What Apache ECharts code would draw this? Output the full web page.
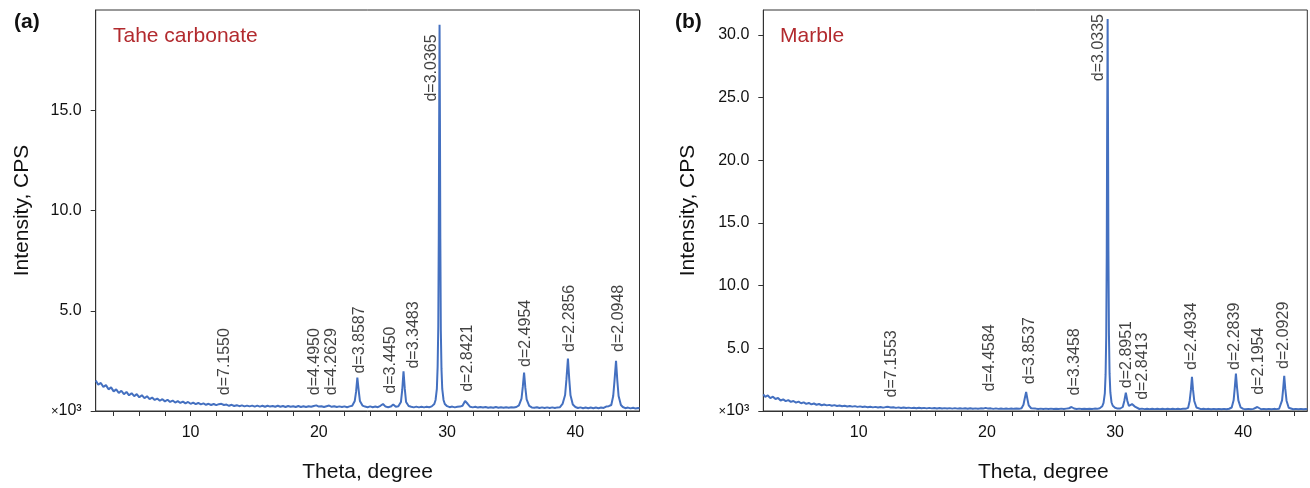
<!DOCTYPE html>
<html>
<head>
<meta charset="utf-8">
<title>XRD patterns</title>
<script src="https://cdn.jsdelivr.net/npm/echarts@6/dist/echarts.min.js"></script>
<style>
  html, body { margin: 0; padding: 0; background: #fff; }
  #chart { width: 1310px; height: 488px; }
</style>
</head>
<body>
<div id="chart"></div>
<script>
// [2theta, intensity (x10^3 CPS)]
const tahePattern = [
  [2.6, 1.52], [2.8, 1.31], [3.0, 1.40], [3.2, 1.20], [3.4, 1.29], [3.6, 1.08], [3.8, 1.18], [4.0, 0.98],
  [4.2, 1.08], [4.4, 0.90], [4.6, 1.01], [4.8, 0.84], [5.0, 0.95], [5.2, 0.78], [5.4, 0.89], [5.6, 0.74],
  [5.8, 0.84], [6.0, 0.68], [6.2, 0.79], [6.4, 0.64], [6.6, 0.74], [6.8, 0.59], [7.0, 0.67], [7.2, 0.55],
  [7.4, 0.62], [7.6, 0.51], [7.8, 0.59], [8.0, 0.48], [8.2, 0.56], [8.4, 0.45], [8.6, 0.52], [8.8, 0.42],
  [9.0, 0.49], [9.2, 0.40], [9.4, 0.47], [9.6, 0.38], [9.8, 0.45], [10.0, 0.36], [10.2, 0.42], [10.4, 0.34],
  [10.6, 0.40], [10.8, 0.33], [11.0, 0.38], [11.2, 0.31], [11.4, 0.36], [11.6, 0.30], [11.8, 0.35], [12.0, 0.29],
  [12.2, 0.34], [12.4, 0.36], [12.6, 0.30], [12.8, 0.32], [13.0, 0.26], [13.2, 0.31], [13.4, 0.25], [13.6, 0.29],
  [13.8, 0.24], [14.0, 0.28], [14.2, 0.23], [14.4, 0.27], [14.6, 0.23], [14.8, 0.27], [15.0, 0.22], [15.2, 0.27],
  [15.4, 0.22], [15.6, 0.26], [15.8, 0.21], [16.0, 0.26], [16.2, 0.22], [16.4, 0.25], [16.6, 0.21], [16.8, 0.26],
  [17.0, 0.21], [17.2, 0.25], [17.4, 0.20], [17.6, 0.25], [17.8, 0.21], [18.0, 0.24], [18.2, 0.20], [18.4, 0.25],
  [18.6, 0.20], [18.8, 0.24], [19.0, 0.20], [19.2, 0.24], [19.4, 0.21], [19.6, 0.25], [19.8, 0.28], [20.0, 0.22],
  [20.2, 0.24], [20.4, 0.20], [20.6, 0.24], [20.8, 0.27], [21.0, 0.21], [21.2, 0.24], [21.4, 0.20], [21.6, 0.23],
  [21.8, 0.20], [22.0, 0.23], [22.2, 0.19], [22.4, 0.23], [22.6, 0.26], [22.8, 0.50], [22.9, 0.95], [23.0, 1.67],
  [23.1, 1.05], [23.2, 0.50], [23.4, 0.27], [23.6, 0.22], [23.8, 0.19], [24.0, 0.23], [24.2, 0.19], [24.4, 0.22],
  [24.6, 0.19], [24.8, 0.26], [25.0, 0.35], [25.2, 0.22], [25.4, 0.19], [25.6, 0.22], [25.8, 0.32], [26.0, 0.21],
  [26.2, 0.24], [26.4, 0.45], [26.5, 1.05], [26.6, 1.98], [26.7, 1.10], [26.8, 0.45], [27.0, 0.25], [27.2, 0.21],
  [27.4, 0.18], [27.6, 0.22], [27.8, 0.18], [28.0, 0.21], [28.2, 0.18], [28.4, 0.21], [28.6, 0.19], [28.8, 0.23],
  [29.0, 0.35], [29.1, 0.55], [29.2, 1.1], [29.26, 2.2], [29.31, 4.2], [29.35, 8.8], [29.38, 14.5], [29.41, 19.27],
  [29.44, 14.5], [29.47, 8.6], [29.51, 4.0], [29.56, 2.1], [29.62, 1.1], [29.72, 0.55], [29.82, 0.35], [30.0, 0.24],
  [30.2, 0.19], [30.4, 0.22], [30.6, 0.18], [30.8, 0.21], [31.0, 0.22], [31.2, 0.26], [31.4, 0.50], [31.5, 0.58],
  [31.6, 0.36], [31.8, 0.21], [32.0, 0.18], [32.2, 0.21], [32.4, 0.17], [32.6, 0.20], [32.8, 0.17], [33.0, 0.20],
  [33.2, 0.16], [33.4, 0.19], [33.6, 0.16], [33.8, 0.20], [34.0, 0.16], [34.2, 0.19], [34.4, 0.16], [34.6, 0.19],
  [34.8, 0.16], [35.0, 0.19], [35.2, 0.17], [35.4, 0.20], [35.6, 0.28], [35.8, 0.62], [35.9, 1.20], [36.0, 1.92],
  [36.1, 1.15], [36.2, 0.58], [36.4, 0.26], [36.6, 0.18], [36.8, 0.16], [37.0, 0.19], [37.2, 0.15], [37.4, 0.18],
  [37.6, 0.15], [37.8, 0.18], [38.0, 0.15], [38.2, 0.18], [38.4, 0.15], [38.6, 0.18], [38.8, 0.19], [39.0, 0.35],
  [39.2, 0.80], [39.3, 1.55], [39.42, 2.62], [39.52, 1.60], [39.62, 0.78], [39.8, 0.32], [40.0, 0.20], [40.2, 0.15],
  [40.4, 0.18], [40.6, 0.14], [40.8, 0.17], [41.0, 0.14], [41.2, 0.17], [41.4, 0.14], [41.6, 0.17], [41.8, 0.14],
  [42.0, 0.17], [42.2, 0.15], [42.4, 0.22], [42.6, 0.24], [42.8, 0.30], [42.95, 0.75], [43.05, 1.50], [43.17, 2.50],
  [43.27, 1.52], [43.37, 0.75], [43.55, 0.30], [43.7, 0.20], [43.9, 0.14], [44.1, 0.17], [44.3, 0.13], [44.5, 0.16],
  [44.7, 0.12], [44.9, 0.15], [45.0, 0.13]
];

// [2theta, intensity (x10^3 CPS)]
const marblePattern = [
  [2.55, 1.32], [2.7, 1.13], [2.9, 1.24], [3.1, 1.03], [3.3, 1.14], [3.5, 0.96], [3.7, 1.04], [3.9, 0.84],
  [4.1, 0.93], [4.3, 0.79], [4.5, 0.87], [4.7, 0.73], [4.9, 0.80], [5.1, 0.67], [5.3, 0.75], [5.5, 0.62],
  [5.7, 0.69], [5.9, 0.57], [6.1, 0.64], [6.3, 0.53], [6.5, 0.60], [6.7, 0.50], [6.9, 0.56], [7.1, 0.46],
  [7.3, 0.52], [7.5, 0.45], [7.7, 0.49], [7.9, 0.42], [8.1, 0.47], [8.3, 0.40], [8.5, 0.44], [8.7, 0.38],
  [8.9, 0.42], [9.1, 0.36], [9.3, 0.40], [9.5, 0.35], [9.7, 0.39], [9.9, 0.33], [10.1, 0.37], [10.3, 0.32],
  [10.5, 0.35], [10.7, 0.30], [10.9, 0.34], [11.1, 0.29], [11.3, 0.33], [11.5, 0.28], [11.7, 0.32], [11.9, 0.27],
  [12.1, 0.31], [12.3, 0.33], [12.5, 0.28], [12.7, 0.30], [12.9, 0.25], [13.1, 0.29], [13.3, 0.24], [13.5, 0.28],
  [13.7, 0.24], [13.9, 0.27], [14.1, 0.23], [14.3, 0.26], [14.5, 0.22], [14.7, 0.26], [14.9, 0.22], [15.1, 0.25],
  [15.3, 0.21], [15.5, 0.25], [15.7, 0.21], [15.9, 0.24], [16.1, 0.20], [16.3, 0.24], [16.5, 0.20], [16.7, 0.23],
  [16.9, 0.20], [17.1, 0.23], [17.3, 0.19], [17.5, 0.23], [17.7, 0.19], [17.9, 0.22], [18.1, 0.19], [18.3, 0.22],
  [18.5, 0.18], [18.7, 0.22], [18.9, 0.18], [19.1, 0.21], [19.3, 0.18], [19.5, 0.21], [19.7, 0.19], [19.9, 0.25],
  [20.1, 0.19], [20.3, 0.21], [20.5, 0.17], [20.7, 0.21], [20.9, 0.17], [21.1, 0.20], [21.3, 0.17], [21.5, 0.20],
  [21.7, 0.17], [21.9, 0.20], [22.1, 0.17], [22.3, 0.19], [22.5, 0.17], [22.7, 0.22], [22.85, 0.50], [22.95, 1.00],
  [23.06, 1.52], [23.16, 0.95], [23.26, 0.45], [23.45, 0.22], [23.6, 0.17], [23.8, 0.19], [24.0, 0.16], [24.2, 0.19],
  [24.4, 0.16], [24.6, 0.19], [24.8, 0.16], [25.0, 0.19], [25.2, 0.16], [25.4, 0.18], [25.6, 0.16], [25.8, 0.19],
  [26.0, 0.16], [26.2, 0.19], [26.4, 0.22], [26.6, 0.32], [26.8, 0.20], [27.0, 0.16], [27.2, 0.19], [27.4, 0.16],
  [27.6, 0.18], [27.8, 0.16], [28.0, 0.18], [28.2, 0.16], [28.4, 0.19], [28.6, 0.17], [28.8, 0.22], [29.0, 0.38],
  [29.1, 0.65], [29.2, 1.4], [29.26, 2.9], [29.31, 6.0], [29.35, 12.5], [29.38, 22.0], [29.42, 31.28], [29.45, 22.5],
  [29.48, 12.8], [29.52, 6.2], [29.57, 3.0], [29.63, 1.5], [29.72, 0.7], [29.82, 0.42], [30.0, 0.26], [30.2, 0.19],
  [30.4, 0.20], [30.6, 0.32], [30.72, 0.80], [30.84, 1.47], [30.96, 0.80], [31.08, 0.40], [31.2, 0.38], [31.32, 0.55],
  [31.42, 0.62], [31.55, 0.35], [31.7, 0.20], [31.9, 0.16], [32.1, 0.19], [32.3, 0.15], [32.5, 0.18], [32.7, 0.15],
  [32.9, 0.18], [33.1, 0.15], [33.3, 0.18], [33.5, 0.15], [33.7, 0.18], [33.9, 0.15], [34.1, 0.18], [34.3, 0.15],
  [34.5, 0.18], [34.7, 0.15], [34.9, 0.18], [35.1, 0.15], [35.3, 0.18], [35.5, 0.17], [35.7, 0.25], [35.82, 0.80],
  [35.92, 1.70], [36.0, 2.72], [36.08, 1.72], [36.18, 0.80], [36.35, 0.28], [36.5, 0.18], [36.7, 0.15], [36.9, 0.18],
  [37.1, 0.15], [37.3, 0.17], [37.5, 0.14], [37.7, 0.17], [37.9, 0.14], [38.1, 0.17], [38.3, 0.14], [38.5, 0.17],
  [38.7, 0.14], [38.9, 0.18], [39.1, 0.28], [39.25, 0.85], [39.34, 1.85], [39.43, 2.98], [39.52, 1.85], [39.62, 0.85],
  [39.8, 0.28], [40.0, 0.17], [40.2, 0.14], [40.4, 0.17], [40.6, 0.14], [40.8, 0.17], [40.95, 0.20], [41.1, 0.32],
  [41.25, 0.19], [41.4, 0.14], [41.6, 0.17], [41.8, 0.14], [42.0, 0.17], [42.2, 0.14], [42.4, 0.17], [42.6, 0.15],
  [42.8, 0.18], [42.9, 0.27], [43.03, 0.85], [43.12, 1.80], [43.2, 2.80], [43.28, 1.78], [43.38, 0.82], [43.55, 0.26],
  [43.7, 0.16], [43.9, 0.14], [44.1, 0.17], [44.3, 0.14], [44.5, 0.17], [44.7, 0.14], [44.9, 0.16], [45.0, 0.15]
];

// peak annotations: 2theta of the label, intensity where the label starts, text
const taheLabelTheta = [12.62, 19.7, 21.0, 23.15, 25.6, 27.42, 28.8, 31.58, 36.08, 39.58, 43.35];
const taheLabelAt = [0.76, 0.76, 0.76, 1.84, 0.84, 2.09, 15.41, 0.93, 2.17, 2.92, 2.92];
const taheLabels = ['d=7.1550', 'd=4.4950', 'd=4.2629', 'd=3.8587', 'd=3.4450', 'd=3.3483',
  'd=3.0365', 'd=2.8421', 'd=2.4954', 'd=2.2856', 'd=2.0948'];

const marbleLabelTheta = [12.6, 20.2, 23.33, 26.86, 28.73, 30.87, 32.11, 35.98, 39.36, 41.18, 43.13];
const marbleLabelAt = [1.04, 1.52, 2.1, 1.2, 26.28, 1.78, 0.85, 3.24, 3.24, 1.25, 3.32];
const marbleLabels = ['d=7.1553', 'd=4.4584', 'd=3.8537', 'd=3.3458', 'd=3.0335', 'd=2.8951',
  'd=2.8413', 'd=2.4934', 'd=2.2839', 'd=2.1954', 'd=2.0929'];

const thetaTicks = [4, 6, 8, 10, 12, 14, 16, 18, 20, 22, 24, 26, 28, 30, 32, 34, 36, 38, 40, 42, 44];
const thetaLabels = [10, 20, 30, 40];
const taheTicks = [0, 5, 10, 15];
const marbleTicks = [0, 5, 10, 15, 20, 25, 30];

const FONT = '"Liberation Sans", Arial, sans-serif';
const LINE_COLOR = '#4470c0';
const AXIS_COLOR = '#333';
const TEXT_COLOR = '#111';

const chart = echarts.init(document.getElementById('chart'));

function xAxisFor (gridIndex, min, namePad) {
  return {
    gridIndex: gridIndex,
    type: 'value',
    min: min,
    max: 45,
    name: 'Theta, degree',
    nameLocation: 'middle',
    nameGap: 51,
    nameTextStyle: { fontFamily: FONT, fontSize: 21, color: TEXT_COLOR, padding: namePad },
    axisLine: { show: true, lineStyle: { color: AXIS_COLOR, width: 1 } },
    axisTick: { show: true, length: 5, lineStyle: { color: AXIS_COLOR }, customValues: thetaTicks },
    axisLabel: { fontFamily: FONT, fontSize: 16, color: TEXT_COLOR, margin: 14, customValues: thetaLabels },
    splitLine: { show: false }
  }
}

function yAxisFor (gridIndex, max, ticks, gap) {
  return {
    gridIndex: gridIndex,
    type: 'value',
    min: 0,
    max: max,
    name: 'Intensity, CPS',
    nameLocation: 'middle',
    nameGap: gap,
    nameTextStyle: { fontFamily: FONT, fontSize: 21, color: TEXT_COLOR },
    axisLine: { show: true, lineStyle: { color: AXIS_COLOR, width: 1 } },
    axisTick: { show: true, length: 5, lineStyle: { color: AXIS_COLOR }, customValues: ticks },
    axisLabel: {
      fontFamily: FONT,
      fontSize: 16,
      color: TEXT_COLOR,
      margin: 14,
      customValues: ticks,
      formatter: function (v) {
        return v === 0 ? '{s|×}10³' : v.toFixed(1)
      },
      rich: { s: { fontFamily: FONT, fontSize: 13, color: TEXT_COLOR } }
    },
    splitLine: { show: false }
  }
}

function labelSeries (idx, thetas, at, texts) {
  return {
    type: 'scatter',
    xAxisIndex: idx,
    yAxisIndex: idx,
    symbolSize: 1,
    itemStyle: { color: 'rgba(0,0,0,0)' },
    silent: true,
    z: 5,
    data: thetas.map((t, i) => [t, at[i], texts[i]]),
    label: {
      show: true,
      position: 'top',
      distance: 0,
      rotate: 90,
      align: 'left',
      verticalAlign: 'middle',
      fontFamily: FONT,
      fontSize: 16,
      color: TEXT_COLOR,
      formatter: p => p.value[2]
    }
  }
}

function patternSeries (idx, data) {
  return {
    type: 'line',
    xAxisIndex: idx,
    yAxisIndex: idx,
    showSymbol: false,
    symbol: 'none',
    smooth: false,
    lineStyle: { color: LINE_COLOR, width: 2 },
    data: data
  }
}

chart.setOption({
  animation: false,
  backgroundColor: '#fff',
  title: [
    { text: '(a)', left: 14, top: 12, padding: 0, textStyle: { fontFamily: FONT, fontSize: 21, fontWeight: 'bold', color: TEXT_COLOR } },
    { text: 'Tahe carbonate', left: 113, top: 26, padding: 0, textStyle: { fontFamily: FONT, fontSize: 21, fontWeight: 'normal', color: '#b22a2e' } },
    { text: '(b)', left: 675, top: 12, padding: 0, textStyle: { fontFamily: FONT, fontSize: 21, fontWeight: 'bold', color: TEXT_COLOR } },
    { text: 'Marble', left: 780, top: 26, padding: 0, textStyle: { fontFamily: FONT, fontSize: 21, fontWeight: 'normal', color: '#b22a2e' } }
  ],
  grid: [
    { left: 95.7, top: 10, right: 670.5, bottom: 76, show: true, borderColor: AXIS_COLOR, borderWidth: 1 },
    { left: 763.3, top: 10, right: 2.7, bottom: 76, show: true, borderColor: AXIS_COLOR, borderWidth: 1 }
  ],
  xAxis: [xAxisFor(0, 2.6, 0), xAxisFor(1, 2.55, [0, 0, 0, 16])],
  yAxis: [yAxisFor(0, 20, taheTicks, 63), yAxisFor(1, 32, marbleTicks, 65)],
  series: [
    patternSeries(0, tahePattern),
    patternSeries(1, marblePattern),
    labelSeries(0, taheLabelTheta, taheLabelAt, taheLabels),
    labelSeries(1, marbleLabelTheta, marbleLabelAt, marbleLabels)
  ]
})
</script>
</body>
</html>
